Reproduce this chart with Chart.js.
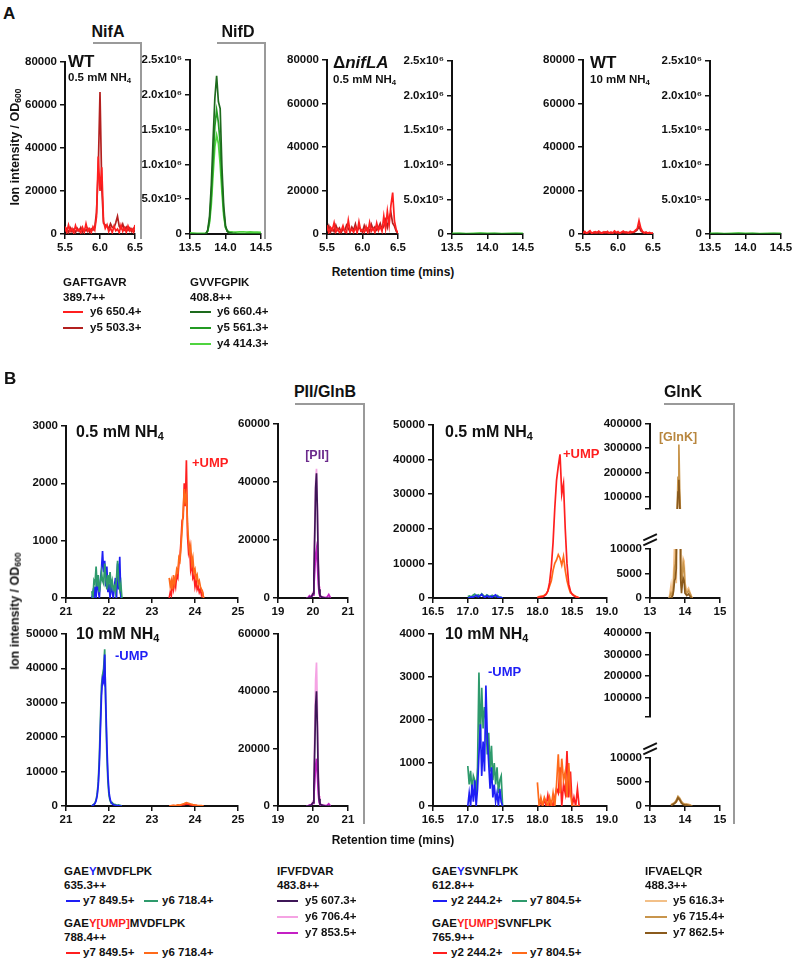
<!DOCTYPE html>
<html>
<head>
<meta charset="utf-8">
<script src="https://cdn.jsdelivr.net/npm/chart.js@4.4.1/dist/chart.umd.min.js"></script>
<style>
body { margin: 0; background: #fff; width: 793px; height: 962px; position: relative; overflow: hidden;
       font-family: "Liberation Sans", Arial, sans-serif; font-weight: bold; color: #111; }
canvas { position: absolute; }
.t { position: absolute; white-space: nowrap; line-height: 1; }
.t sub { font-size: 0.68em; vertical-align: -0.28em; line-height: 0; }
.br { position: absolute; border-top: 2px solid #9a9a9a; border-right: 2px solid #9a9a9a; }
.ln { position: absolute; height: 2px; }
</style>
</head>
<body>
<script>
// colours of the transitions
const RED = '#ff1f1f', DRED = '#b3201f';
const DGREEN = '#1d6a1d', GREEN = '#239a23', LGREEN = '#4fd43f';
const BLUE = '#1e1ef5', TEAL = '#2e9a6c', ORANGE = '#ff6a1a';
const DPURPLE = '#3e1657', PINK = '#f5a3e3', MAGENTA = '#c41fc4';
const LTAN = '#f3c088', TAN = '#c8954c', BROWN = '#8a5a1c';

// ---------- panel A data ----------
const tNifA = [5.500,5.525,5.550,5.575,5.600,5.625,5.650,5.675,5.700,5.725,5.750,5.775,5.800,5.825,5.850,5.875,5.900,5.925,5.950,5.975,6.000,6.025,6.050,6.075,6.100,6.125,6.150,6.175,6.200,6.225,6.250,6.275,6.300,6.325,6.350,6.375,6.400,6.425,6.450,6.475,6.500];
const wtNifAy6 = [3500,800,4200,1200,2600,500,3900,1500,2200,600,3100,900,4800,1300,2500,700,3400,1800,8000,36000,20000,31000,6000,2600,4300,1100,2800,700,3600,1500,2300,600,4100,1200,2900,800,3700,1400,2400,900,4200];
const wtNifAy5 = [1200,2500,600,2900,1000,2200,700,2600,1300,3000,800,2100,1500,2700,900,2400,1800,3200,10000,30000,66000,22000,5000,4200,3600,2500,4800,3100,2900,5200,8200,3500,2400,4600,2000,3300,1700,2800,1200,2500,800];
const koNifAy6 = [4000,600,3000,1800,5200,900,2400,700,1500,3800,1000,600,6300,1200,2100,800,3000,600,5600,1400,2000,900,3500,600,5300,1300,2600,700,5000,1600,3400,1200,8200,2500,10500,4000,13000,19000,6000,2000,500];
const koNifAy5 = [1500,3800,900,2600,1100,4000,1800,2800,700,2300,1500,4100,2600,900,3200,1700,4600,1300,3000,2200,800,3900,1600,2700,1100,4400,2100,3300,1800,2900,4800,2100,3600,6400,3100,7500,9800,5000,3600,1200,300];
const hiNifAy6 = [600,1200,400,900,1500,300,800,1100,500,1300,700,400,1000,600,1200,300,900,500,1400,700,1100,400,800,1300,600,900,500,1200,800,1000,1800,2500,6200,2800,1200,600,900,400,700,300,500];
const hiNifAy5 = [300,700,200,500,900,400,600,300,800,500,200,700,400,900,300,600,500,200,800,400,600,300,700,500,900,400,600,300,800,700,1200,1900,3600,1500,800,400,600,300,500,200,300];

const tNifD = [13.50,13.55,13.60,13.65,13.70,13.725,13.75,13.775,13.80,13.825,13.85,13.875,13.90,13.925,13.95,13.975,14.00,14.025,14.05,14.10,14.15,14.20,14.25,14.30,14.35,14.40,14.45,14.50];
const wtNifDy6 = [0,0,0,0,0,5000,60000,250000,700000,1350000,1950000,2270000,1900000,1800000,950000,400000,120000,40000,20000,10000,5000,3000,0,0,0,0,0,0];
const wtNifDy5 = [0,0,0,0,0,4000,45000,200000,550000,1050000,1550000,1780000,1600000,1300000,750000,320000,100000,35000,18000,8000,4000,2000,0,0,0,0,0,0];
const wtNifDy4 = [15000,12000,10000,8000,9000,12000,40000,160000,420000,850000,1250000,1420000,1300000,1000000,600000,260000,90000,45000,35000,30000,28000,30000,32000,28000,30000,27000,29000,25000];
const tNifDflat = [13.50,13.60,13.70,13.80,13.90,14.00,14.10,14.20,14.30,14.40,14.50];
const flatNifDy4 = [8000,10000,7000,9000,12000,8000,10000,7000,9000,8000,10000];
const flatNifDy5 = [3000,4000,2000,3000,5000,3000,4000,2000,3000,4000,3000];
const flatNifDy6 = [0,0,0,0,0,0,0,0,0,0,0];

// ---------- panel B data ----------
const tGlnBu = [21.600,21.625,21.650,21.675,21.700,21.725,21.750,21.775,21.800,21.825,21.850,21.875,21.900,21.925,21.950,21.975,22.000,22.025,22.050,22.075,22.100,22.125,22.150,22.175,22.200,22.225,22.250,22.275,22.300];
const tGlnBm = [23.400,23.425,23.450,23.475,23.500,23.525,23.550,23.575,23.600,23.625,23.650,23.675,23.700,23.725,23.750,23.775,23.800,23.825,23.850,23.875,23.900,23.925,23.950,23.975,24.000,24.025,24.050,24.075,24.100,24.125,24.150,24.175,24.200];
const lowGlnBy7 = [0,100,0,200,0,350,150,0,300,500,820,450,650,200,550,100,250,0,300,100,0,200,350,0,600,150,720,0,0];
const lowGlnBy6 = [120,0,300,250,550,200,400,100,250,450,300,250,600,350,150,400,250,450,200,300,150,200,100,350,650,300,150,250,0];
const lowGlnBumpY7 = [0,100,50,250,150,300,200,400,350,600,700,1000,1350,1400,2000,1600,2400,1100,800,900,500,600,350,400,200,300,150,200,100,150,50,100,0];
const lowGlnBumpY6 = [350,200,300,150,400,250,350,500,450,700,650,900,1200,1500,1900,1700,1800,1300,1000,800,900,600,700,450,500,350,400,250,300,200,150,100,0];
const hiGlnBy7 = [0,200,400,800,1500,3000,6000,12000,22000,32000,37000,36000,44000,30000,18000,9000,4000,2000,1000,600,400,300,200,150,100,100,50,0,0];
const hiGlnBy6 = [0,300,500,900,1800,3500,7000,14000,25000,35000,38000,40000,45500,28000,15000,7000,3000,1500,800,1000,600,500,400,300,200,300,200,100,0];
const tGlnBm2 = [23.40,23.45,23.50,23.55,23.60,23.65,23.70,23.75,23.80,23.85,23.90,23.95,24.00,24.05,24.10,24.15,24.20];
const hiGlnBumpY6 = [0,100,200,150,300,250,500,700,1000,800,600,400,300,200,150,100,0];
const hiGlnBumpY7 = [0,50,100,80,150,200,300,400,600,500,350,250,200,100,80,50,0];

const tPII = [19.80,19.85,19.90,19.95,20.00,20.025,20.05,20.075,20.10,20.125,20.15,20.175,20.20,20.25,20.30,20.35,20.40,20.45,20.50];
const lowPIIy5 = [0,0,200,300,1500,8000,22000,38000,43000,30000,12000,3000,800,300,100,0,0,0,0];
const lowPIIy6 = [0,0,300,500,2000,10000,25000,40000,44500,32000,14000,4000,1000,400,200,100,0,200,0];
const lowPIIy7 = [0,0,800,400,1000,4000,9000,15000,17000,12000,5000,1500,500,300,200,100,300,1200,0];
const hiPIIy5 = [0,0,100,300,1200,7000,20000,35000,40000,27000,10000,2500,700,300,100,0,0,0,0];
const hiPIIy6 = [0,0,200,400,1800,9000,26000,44000,50000,34000,13000,3500,900,400,200,100,0,100,0];
const hiPIIy7 = [0,0,300,500,900,3500,8000,14000,16500,11000,4500,1300,400,300,200,100,200,800,0];

const tGlnKu = [17.000,17.025,17.050,17.075,17.100,17.125,17.150,17.175,17.200,17.225,17.250,17.275,17.300,17.325,17.350,17.375,17.400,17.425,17.450,17.475,17.500];
const tGlnKm = [18.000,18.025,18.050,18.075,18.100,18.125,18.150,18.175,18.200,18.225,18.250,18.275,18.300,18.325,18.350,18.375,18.400,18.425,18.450,18.475,18.500,18.525,18.550,18.575,18.600];
const lowGlnKy2 = [0,100,300,200,500,800,300,600,1000,400,200,700,300,500,200,600,900,300,100,200,0];
const lowGlnKy7 = [400,600,300,800,1100,500,900,600,1200,700,400,900,600,300,800,500,400,700,300,200,0];
const lowGlnKumpY2 = [0,200,400,300,600,1000,2000,4500,9000,16000,26000,34000,38000,41500,30000,33000,20000,10000,4000,2000,1000,600,300,200,0];
const lowGlnKumpY7 = [300,400,500,600,800,1200,2000,3500,5000,8000,10000,11000,12500,11500,9500,12000,8000,5000,3000,1500,1200,800,500,300,0];
const tGlnKu2 = [17.00,17.02,17.04,17.06,17.08,17.10,17.12,17.14,17.16,17.18,17.20,17.22,17.24,17.26,17.28,17.30,17.32,17.34,17.36,17.38,17.40,17.42,17.44,17.46,17.48,17.50];
const hiGlnKy7 = [930,500,820,350,700,600,300,900,3100,1500,2750,1800,2300,2000,1200,1700,800,1400,600,1000,500,900,300,600,700,0];
const hiGlnKy2 = [0,300,0,500,100,600,0,400,1200,1900,700,1500,800,2800,1600,1000,400,900,200,500,100,300,0,400,100,0];
const hiGlnKumpY7 = [550,0,200,0,200,100,0,200,0,300,0,500,1200,300,1100,600,800,200,1000,300,0,0,0,0,0];
const hiGlnKumpY2 = [0,0,100,0,150,0,250,0,100,0,200,400,300,900,0,500,300,1280,200,800,0,200,0,400,0];

const tGlnKprot = [13.55,13.60,13.625,13.65,13.675,13.70,13.725,13.75,13.775,13.80,13.825,13.85,13.875,13.90,13.925,13.95,13.975,14.00,14.05,14.10,14.15,14.20];
const lowProtY5 = [0,2500,500,1500,5000,10500,9000,3000,20000,90000,140000,60000,5000,2000,6000,8000,7500,3000,1500,2000,1000,0];
const lowProtY6 = [0,1000,500,800,3000,6000,7000,9000,40000,180000,315000,120000,8000,2500,5000,7000,6000,2000,1000,1500,800,0];
const lowProtY7 = [0,0,200,500,1500,3500,4000,6000,30000,120000,170000,60000,4000,1000,3000,4000,3500,1000,500,800,300,0];
const tGlnKprot2 = [13.60,13.65,13.70,13.75,13.80,13.85,13.90,13.95,14.00,14.05,14.10,14.15,14.20];
const hiProtY5 = [300,500,600,800,1500,1200,600,400,500,300,400,200,0];
const hiProtY6 = [200,400,700,1200,2000,1600,900,500,300,400,200,100,0];
const hiProtY7 = [100,300,500,900,1700,1300,600,300,200,200,100,100,0];

// tick values for the upper part of the broken GlnK axes
const glnkTopTicks1 = [50000, 100000, 200000, 300000, 400000];
const glnkTopTicks2 = [10000, 100000, 200000, 300000, 400000];

Chart.defaults.font = { family: '"Liberation Sans", Arial, sans-serif', size: 11.5, weight: 'bold' };
Chart.defaults.color = '#111';

const AXW = 64, PADT = 9, PADR = 16, AXH = 24;

const intLabel = v => String(v);
const sciLabel = v => v === 0 ? '0' : (v >= 1e6 ? (v / 1e6).toFixed(1) + 'x10\u2076' : (v / 1e5).toFixed(1) + 'x10\u2075');
const topLabel = v => (v % 100000 === 0 ? String(v) : '');

// one chart: rect is the plot area on the page, xs = [min,max,step,decimals], ys = [min,max,step,label,ticks]
function makeChart(rect, xs, ys, sets, noX) {
    const w = rect.r - rect.l + AXW + PADR;
    const h = rect.b - rect.t + PADT + (noX ? 4 : AXH);
    const cv = document.createElement('canvas');
    cv.width = w; cv.height = h;
    cv.style.left = (rect.l - AXW) + 'px';
    cv.style.top = (rect.t - PADT) + 'px';
    document.body.appendChild(cv);
    const grid = { drawOnChartArea: false, drawTicks: true, tickLength: 5, color: '#111', lineWidth: 1.5 };
    const border = { display: true, color: '#111', width: 2 };
    const yScale = {
        min: ys[0], max: ys[1],
        afterFit: a => { a.width = AXW; },
        ticks: { stepSize: ys[2], autoSkip: false, padding: 3, callback: ys[3] || intLabel },
        grid: grid, border: border
    };
    if (ys[4]) yScale.afterBuildTicks = a => { a.ticks = ys[4].map(v => ({ value: v })); };
    return new Chart(cv, {
        type: 'line',
        data: {
            datasets: sets.map(s => ({
                data: s.t.map((x, i) => ({ x: x, y: s.v[i] })),
                borderColor: s.c, borderWidth: 1.7, pointRadius: 0, tension: 0, fill: false
            }))
        },
        options: {
            responsive: false, animation: false, events: [],
            layout: { padding: { top: PADT, right: PADR, left: 0, bottom: noX ? 4 : 0 } },
            plugins: { legend: { display: false }, tooltip: { enabled: false } },
            scales: {
                x: {
                    type: 'linear', display: !noX, min: xs[0], max: xs[1],
                    afterFit: a => { a.height = AXH; },
                    ticks: { stepSize: xs[2], autoSkip: false, maxRotation: 0, padding: 2, callback: v => v.toFixed(xs[3]) },
                    grid: grid, border: border
                },
                y: yScale
            }
        }
    });
}

// panel A
const xNifA = [5.5, 6.5, 0.5, 1], xNifD = [13.5, 14.5, 0.5, 1];
const yNifA = [0, 80000, 20000], yNifD = [0, 2500000, 500000, sciLabel];
makeChart({ l: 65, r: 135, t: 61, b: 234 }, xNifA, yNifA, [
    { t: tNifA, v: wtNifAy6, c: RED }, { t: tNifA, v: wtNifAy5, c: DRED }]);
makeChart({ l: 190, r: 261, t: 59, b: 234 }, xNifD, yNifD, [
    { t: tNifD, v: wtNifDy6, c: DGREEN }, { t: tNifD, v: wtNifDy5, c: GREEN }, { t: tNifD, v: wtNifDy4, c: LGREEN }]);
makeChart({ l: 327, r: 398, t: 59, b: 234 }, xNifA, yNifA, [
    { t: tNifA, v: koNifAy6, c: RED }, { t: tNifA, v: koNifAy5, c: DRED }]);
makeChart({ l: 452, r: 523, t: 60, b: 234 }, xNifD, yNifD, [
    { t: tNifDflat, v: flatNifDy6, c: DGREEN }, { t: tNifDflat, v: flatNifDy5, c: GREEN }, { t: tNifDflat, v: flatNifDy4, c: LGREEN }]);
makeChart({ l: 583, r: 653, t: 59, b: 234 }, xNifA, yNifA, [
    { t: tNifA, v: hiNifAy6, c: RED }, { t: tNifA, v: hiNifAy5, c: DRED }]);
makeChart({ l: 710, r: 781, t: 60, b: 234 }, xNifD, yNifD, [
    { t: tNifDflat, v: flatNifDy6, c: DGREEN }, { t: tNifDflat, v: flatNifDy5, c: GREEN }, { t: tNifDflat, v: flatNifDy4, c: LGREEN }]);

// panel B, 0.5 mM row
makeChart({ l: 66, r: 238, t: 425, b: 598 }, [21, 25, 1, 0], [0, 3000, 1000], [
    { t: tGlnBu, v: lowGlnBy6, c: TEAL }, { t: tGlnBu, v: lowGlnBy7, c: BLUE },
    { t: tGlnBm, v: lowGlnBumpY6, c: ORANGE }, { t: tGlnBm, v: lowGlnBumpY7, c: RED }]);
makeChart({ l: 278, r: 348, t: 423, b: 598 }, [19, 21, 1, 0], [0, 60000, 20000], [
    { t: tPII, v: lowPIIy5, c: DPURPLE }, { t: tPII, v: lowPIIy7, c: MAGENTA }, { t: tPII, v: lowPIIy6, c: PINK }]);
makeChart({ l: 433, r: 607, t: 424, b: 598 }, [16.5, 19, 0.5, 1], [0, 50000, 10000], [
    { t: tGlnKu, v: lowGlnKy2, c: BLUE }, { t: tGlnKu, v: lowGlnKy7, c: TEAL },
    { t: tGlnKm, v: lowGlnKumpY2, c: RED }, { t: tGlnKm, v: lowGlnKumpY7, c: ORANGE }]);
makeChart({ l: 650, r: 720, t: 423, b: 533 }, [13, 15, 1, 0], [50000, 400000, 100000, topLabel, glnkTopTicks1], [
    { t: tGlnKprot, v: lowProtY7, c: BROWN }, { t: tGlnKprot, v: lowProtY6, c: TAN }, { t: tGlnKprot, v: lowProtY5, c: LTAN }], true);
makeChart({ l: 650, r: 720, t: 548, b: 598 }, [13, 15, 1, 0], [0, 10000, 5000], [
    { t: tGlnKprot, v: lowProtY7, c: BROWN }, { t: tGlnKprot, v: lowProtY6, c: TAN }, { t: tGlnKprot, v: lowProtY5, c: LTAN }]);

// panel B, 10 mM row
makeChart({ l: 66, r: 238, t: 633, b: 806 }, [21, 25, 1, 0], [0, 50000, 10000], [
    { t: tGlnBu, v: hiGlnBy7, c: BLUE }, { t: tGlnBu, v: hiGlnBy6, c: TEAL },
    { t: tGlnBm2, v: hiGlnBumpY6, c: ORANGE }, { t: tGlnBm2, v: hiGlnBumpY7, c: RED }]);
makeChart({ l: 278, r: 348, t: 633, b: 806 }, [19, 21, 1, 0], [0, 60000, 20000], [
    { t: tPII, v: hiPIIy5, c: DPURPLE }, { t: tPII, v: hiPIIy7, c: MAGENTA }, { t: tPII, v: hiPIIy6, c: PINK }]);
makeChart({ l: 433, r: 607, t: 633, b: 806 }, [16.5, 19, 0.5, 1], [0, 4000, 1000], [
    { t: tGlnKu2, v: hiGlnKy2, c: BLUE }, { t: tGlnKu2, v: hiGlnKy7, c: TEAL },
    { t: tGlnKm, v: hiGlnKumpY7, c: ORANGE }, { t: tGlnKm, v: hiGlnKumpY2, c: RED }]);
makeChart({ l: 650, r: 720, t: 632, b: 741 }, [13, 15, 1, 0], [10000, 400000, 100000, topLabel, glnkTopTicks2], [], true);
makeChart({ l: 650, r: 720, t: 757, b: 806 }, [13, 15, 1, 0], [0, 10000, 5000], [
    { t: tGlnKprot2, v: hiProtY7, c: BROWN }, { t: tGlnKprot2, v: hiProtY6, c: TAN }, { t: tGlnKprot2, v: hiProtY5, c: LTAN }]);

// text, brackets, legends
function txt(x, y, html, size, o) {
    o = o || {};
    const d = document.createElement('div');
    d.className = 't';
    d.innerHTML = html;
    d.style.left = x + 'px';
    d.style.top = y + 'px';
    d.style.fontSize = size + 'px';
    if (o.color) d.style.color = o.color;
    let tf = 'translate(' + (o.center || o.rot ? '-50%' : '0') + ',-50%)';
    if (o.rot) tf += ' rotate(-90deg)';
    d.style.transform = tf;
    document.body.appendChild(d);
}
function bracket(x1, y1, x2, y2) {
    const d = document.createElement('div');
    d.className = 'br';
    d.style.left = x1 + 'px'; d.style.top = y1 + 'px';
    d.style.width = (x2 - x1) + 'px'; d.style.height = (y2 - y1) + 'px';
    document.body.appendChild(d);
}
function leg(x, y, color, label, len, gap) {
    const d = document.createElement('div');
    d.className = 'ln';
    d.style.left = x + 'px'; d.style.top = (y - 1) + 'px';
    d.style.width = len + 'px'; d.style.background = color;
    document.body.appendChild(d);
    txt(x + len + gap, y, label, 11.5);
}
function breakMark(x, y) {
    const d = document.createElement('div');
    d.style.cssText = 'position:absolute;width:15px;height:1.5px;background:#111;transform:translate(-50%,-50%) rotate(-25deg);left:' + x + 'px;top:' + y + 'px';
    document.body.appendChild(d);
}

const NH4 = 'NH<sub>4</sub>';
const OD = 'Ion intensity / OD<sub>600</sub>';

txt(3, 13, 'A', 17);
txt(108, 32, 'NifA', 16, { center: true });
txt(238, 32, 'NifD', 16, { center: true });
bracket(93, 42, 140, 237);
bracket(217, 42, 264, 237);
txt(68, 61, 'WT', 17);
txt(68, 78, '0.5 mM ' + NH4, 11.5);
txt(333, 62, '\u0394<i>nifLA</i>', 17);
txt(333, 80, '0.5 mM ' + NH4, 11.5);
txt(590, 62, 'WT', 17);
txt(590, 80, '10 mM ' + NH4, 11.5);
txt(15, 147, OD, 12.5, { rot: true });
txt(393, 272, 'Retention time (mins)', 12, { center: true });

txt(63, 283, 'GAFTGAVR', 11.5);
txt(63, 298, '389.7++', 11.5);
leg(63, 312, RED, 'y6 650.4+', 20, 7);
leg(63, 328, DRED, 'y5 503.3+', 20, 7);
txt(190, 283, 'GVVFGPIK', 11.5);
txt(190, 298, '408.8++', 11.5);
leg(190, 312, DGREEN, 'y6 660.4+', 21, 6);
leg(190, 328, GREEN, 'y5 561.3+', 21, 6);
leg(190, 344, LGREEN, 'y4 414.3+', 21, 6);

txt(4, 378, 'B', 17);
txt(325, 392, 'PII/GlnB', 16, { center: true });
bracket(295, 403, 363, 822);
txt(683, 392, 'GlnK', 16, { center: true });
bracket(664, 403, 733, 822);
txt(76, 432, '0.5 mM ' + NH4, 16);
txt(192, 462, '+UMP', 13, { color: RED });
txt(317, 455, '[PII]', 12.5, { center: true, color: '#6b2a8c' });
txt(445, 432, '0.5 mM ' + NH4, 16);
txt(563, 453, '+UMP', 13, { color: RED });
txt(678, 437, '[GlnK]', 12.5, { center: true, color: '#b8863e' });
txt(76, 634, '10 mM ' + NH4, 16);
txt(115, 655, '-UMP', 13, { color: BLUE });
txt(445, 634, '10 mM ' + NH4, 16);
txt(488, 671, '-UMP', 13, { color: BLUE });
txt(15, 611, OD, 12.5, { rot: true });
txt(393, 840, 'Retention time (mins)', 12, { center: true });
breakMark(650, 537); breakMark(650, 542);
breakMark(650, 746); breakMark(650, 751);

const yB = '<span style="color:' + BLUE + '">Y</span>';
const yU = '<span style="color:' + RED + '">Y[UMP]</span>';
txt(64, 872, 'GAE' + yB + 'MVDFLPK', 11.5);
txt(64, 886, '635.3++', 11.5);
leg(66, 901, BLUE, 'y7 849.5+', 14, 3);
leg(144, 901, TEAL, 'y6 718.4+', 14, 4);
txt(64, 924, 'GAE' + yU + 'MVDFLPK', 11.5);
txt(64, 938, '788.4++', 11.5);
leg(66, 953, RED, 'y7 849.5+', 14, 3);
leg(144, 953, ORANGE, 'y6 718.4+', 14, 4);

txt(277, 872, 'IFVFDVAR', 11.5);
txt(277, 886, '483.8++', 11.5);
leg(277, 901, DPURPLE, 'y5 607.3+', 21, 7);
leg(277, 917, PINK, 'y6 706.4+', 21, 7);
leg(277, 933, MAGENTA, 'y7 853.5+', 21, 7);

txt(432, 872, 'GAE' + yB + 'SVNFLPK', 11.5);
txt(432, 886, '612.8++', 11.5);
leg(433, 901, BLUE, 'y2 244.2+', 14, 4);
leg(512, 901, TEAL, 'y7 804.5+', 15, 3);
txt(432, 924, 'GAE' + yU + 'SVNFLPK', 11.5);
txt(432, 938, '765.9++', 11.5);
leg(433, 953, RED, 'y2 244.2+', 14, 4);
leg(512, 953, ORANGE, 'y7 804.5+', 15, 3);

txt(645, 872, 'IFVAELQR', 11.5);
txt(645, 886, '488.3++', 11.5);
leg(645, 901, LTAN, 'y5 616.3+', 22, 6);
leg(645, 917, TAN, 'y6 715.4+', 22, 6);
leg(645, 933, BROWN, 'y7 862.5+', 22, 6);
</script>
</body>
</html>
